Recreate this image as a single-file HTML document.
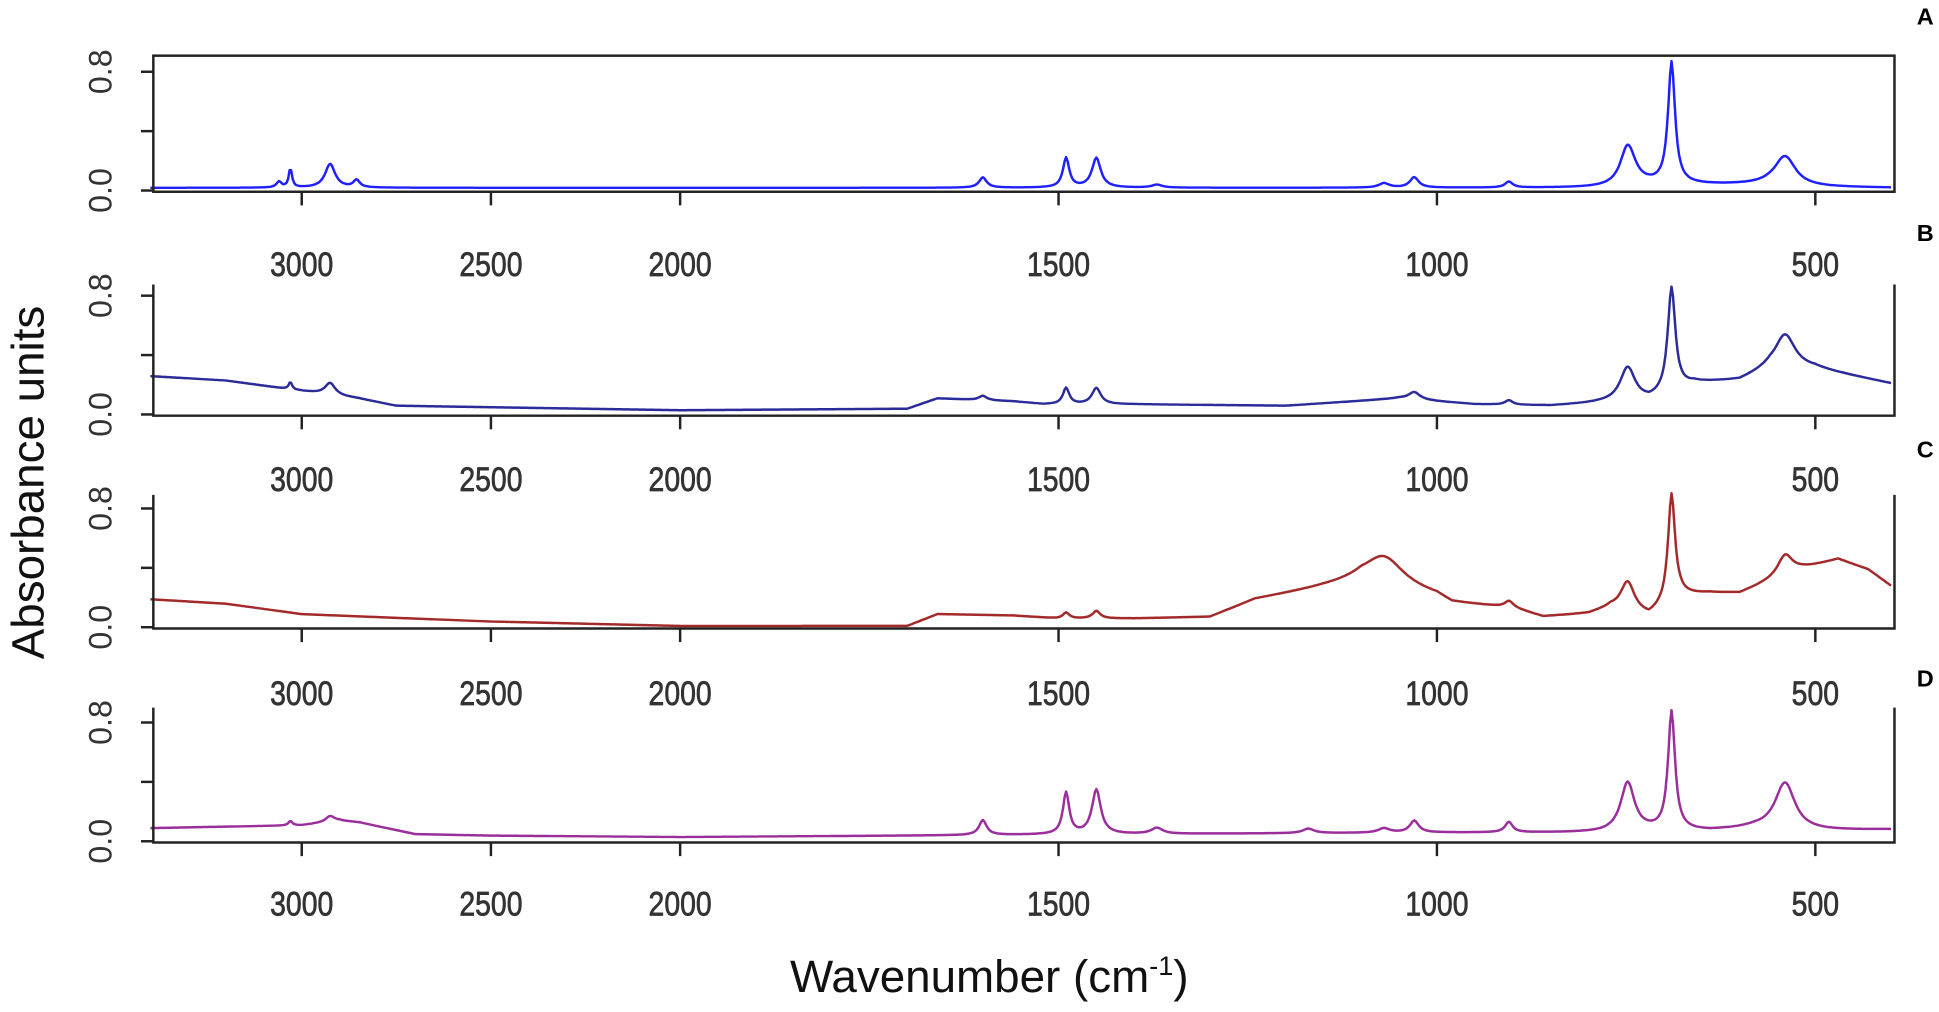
<!DOCTYPE html>
<html><head><meta charset="utf-8"><style>
html,body{margin:0;padding:0;background:#fff;}
svg{display:block;}
text{font-family:"Liberation Sans",sans-serif;}
</style></head><body>
<svg id="s" width="1939" height="1012" viewBox="0 0 1568 818" preserveAspectRatio="none" xmlns="http://www.w3.org/2000/svg">
<g id="g"></g>
<text x="0" y="0" transform="translate(35,390) rotate(-90)" text-anchor="middle" font-size="37" fill="#111">Absorbance units</text>
<text x="800" y="802" text-anchor="middle" font-size="37" fill="#111">Wavenumber (cm<tspan dy="-14" font-size="22">-1</tspan><tspan dy="14">)</tspan></text>
<g font-weight="bold" font-size="19" fill="#000">
<text x="1550" y="20">A</text><text x="1550" y="195">B</text><text x="1550" y="370">C</text><text x="1550" y="555">D</text>
</g>
</svg>
<script>
function X(w){return w>=2000?550-(w-2000)*0.306:550+(2000-w)*0.612;}
function lin(pts,w){
 if(w>=pts[0][0])return pts[0][1];
 for(let i=1;i<pts.length;i++){if(w>=pts[i][0]){const a=pts[i-1],b=pts[i];return b[1]+(a[1]-b[1])*(w-b[0])/(a[0]-b[0]);}}
 return pts[pts.length-1][1];}
function L(pk,w){let s=0;for(const p of pk){const d=(w-p[0])/p[2];s+=p[1]/(1+d*d);}return s;}
const panels=[
 {y0:154,col:"#1f1fff",box:true,top:45,ly:223,
  base:[[3400,0.01],[2000,0.01],[760,0.01],[740,0.03],[560,0.03],[520,0.015],[400,0.01]],
  pk:[[3060,0.04,8],[3030,0.13,5],[2925,0.16,16],[2855,0.05,10],[1600,0.07,6],[1490,0.2,5],[1450,0.2,7],[1370,0.02,8],[1070,0.03,8],[1030,0.07,7],[905,0.04,6],[748,0.27,12],[690,0.82,5.5],[540,0.2,17]]},
 {y0:335,col:"#2b2b99",top:230,ly:397,
  base:[[3400,0.25],[3200,0.22],[3000,0.15],[2850,0.1],[2750,0.05],[2500,0.04],[2000,0.02],[1700,0.03],[1660,0.1],[1560,0.08],[1520,0.06],[1400,0.06],[1200,0.05],[1050,0.1],[950,0.06],[850,0.05],[780,0.07],[720,0.08],[660,0.2],[600,0.22],[560,0.3],[500,0.3],[400,0.2]],
  pk:[[3030,0.05,5],[2925,0.08,16],[1600,0.03,6],[1490,0.11,5],[1450,0.11,7],[1030,0.05,9],[905,0.03,6],[748,0.23,12],[690,0.7,6],[540,0.23,16]]},
 {y0:507,col:"#a32a2a",top:400,ly:570,
  base:[[3400,0.18],[3200,0.15],[3000,0.08],[2900,0.07],[2500,0.03],[2000,0.0],[1700,0.0],[1660,0.08],[1560,0.07],[1500,0.05],[1400,0.05],[1300,0.06],[1240,0.18],[1150,0.26],[1100,0.3],[1000,0.2],[980,0.15],[900,0.12],[860,0.06],[800,0.08],[770,0.12],[720,0.06],[680,0.2],[640,0.22],[600,0.22],[560,0.3],[520,0.38],[470,0.45],[430,0.38],[400,0.27]],
  pk:[[1490,0.04,5],[1450,0.05,6],[1070,0.2,32],[905,0.04,6],[748,0.2,11],[690,0.72,5.5],[540,0.14,12]]},
 {y0:680,col:"#9a2e9a",top:572,ly:740,
  base:[[3400,0.08],[3200,0.09],[3000,0.1],[2900,0.13],[2850,0.12],[2700,0.04],[2500,0.03],[2000,0.02],[1700,0.03],[1400,0.04],[1000,0.05],[780,0.05],[720,0.06],[640,0.06],[580,0.08],[520,0.06],[400,0.07]],
  pk:[[3030,0.03,6],[2925,0.04,14],[1600,0.1,6],[1490,0.28,5],[1450,0.3,7],[1370,0.04,9],[1170,0.03,9],[1070,0.03,9],[1030,0.08,7],[905,0.07,6],[748,0.33,11],[690,0.8,5.5],[540,0.32,16]]}
];
let h="";
const ticks=[3000,2500,2000,1500,1000,500];
for(const p of panels){
 const y0=p.y0, L0=124,R0=1532;
 let d="";
 for(let w=3400;w>=400;w-=(w>2000?4:2)){
   let a=lin(p.base,w)+L(p.pk,w);
   if(a>0.92)a=0.92;
   const y=y0-a*120;
   d+=(d?"L":"M")+X(w).toFixed(1)+","+(y-1).toFixed(1);
 }
 h+=`<path d="${d}" fill="none" stroke="${p.col}" stroke-width="2" stroke-linejoin="round"/>`;
 if(p.box) h+=`<rect x="${L0}" y="${p.top}" width="${R0-L0}" height="${y0+1-p.top}" fill="none" stroke="#222" stroke-width="2"/>`;
 else h+=`<path d="M${L0},${p.top}V${y0+1}H${R0}V${p.top}" fill="none" stroke="#222" stroke-width="2"/>`;
 for(const v of [0,0.4,0.8]){const y=y0-v*120;h+=`<line x1="${L0-10}" y1="${y}" x2="${L0}" y2="${y}" stroke="#222" stroke-width="2"/>`;}
 for(const v of [0,0.8]){const y=y0-v*120;h+=`<text transform="translate(90,${y}) rotate(-90)" text-anchor="middle" font-size="26" fill="#333">${v.toFixed(1)}</text>`;}
 for(const t of ticks){const x=X(t);h+=`<line x1="${x}" y1="${y0+1}" x2="${x}" y2="${y0+12}" stroke="#222" stroke-width="2"/>`;
  h+=`<text x="${x}" y="${p.ly}" text-anchor="middle" font-size="28" fill="#333" stroke="#333" stroke-width="0.6" transform="translate(${x},0) scale(0.82,1) translate(${-x},0)">${t}</text>`;}
}
document.getElementById("g").innerHTML=h;
</script>
</body></html>
